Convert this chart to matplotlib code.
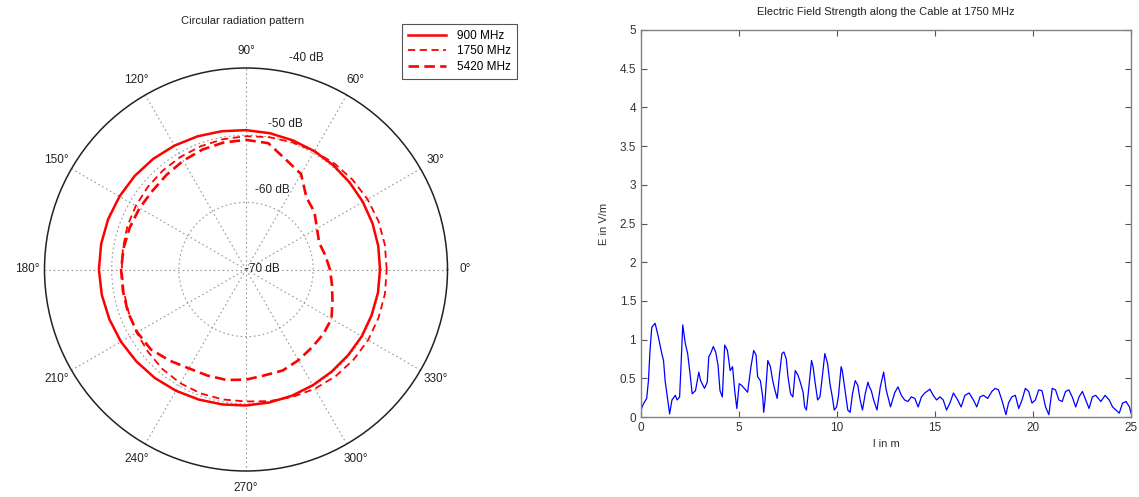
import numpy as np
import matplotlib
matplotlib.use("Agg")
import matplotlib.pyplot as plt

plt.rcParams['font.family'] = ['Liberation Sans', 'DejaVu Sans']
plt.rcParams['font.size'] = 8

# polar pattern data (angle in degrees, level in dB)
angles_deg = list(range(0, 370, 10))
level_900 = [-50.05, -50.0, -49.95, -49.9, -49.85, -49.75, -49.65, -49.55, -49.4, -49.25,
             -49.1, -48.9, -48.7, -48.5, -48.35, -48.25, -48.15, -48.1, -48.1, -48.2,
             -48.35, -48.5, -48.7, -48.9, -49.15, -49.4, -49.6, -49.75, -49.9, -50.0,
             -50.1, -50.15, -50.15, -50.1, -50.1, -50.05, -50.05]
level_1750 = [-49.05, -49.0, -49.0, -49.1, -49.25, -49.45, -49.65, -49.85, -50.0, -50.15,
              -50.3, -50.45, -50.6, -50.75, -50.9, -51.05, -51.2, -51.4, -51.5, -51.5,
              -51.4, -51.2, -50.95, -50.65, -50.45, -50.35, -50.35, -50.35, -50.1, -49.8,
              -49.5, -49.25, -49.1, -49.0, -49.0, -49.0, -49.05]
level_5420 = [-57.5, -58.0, -58.4, -57.8, -56.7, -56.0, -53.6, -52.6, -50.9, -50.7,
              -50.8, -51.0, -51.3, -51.6, -51.8, -51.7, -51.6, -51.5, -51.4, -51.4,
              -51.3, -51.3, -51.5, -52.3, -53.0, -53.2, -53.3, -53.6, -54.0, -54.0,
              -54.4, -54.8, -55.0, -55.3, -56.3, -57.0, -57.5]
db_rings = [-60, -50]
db_labels = ['-70 dB', '-60 dB', '-50 dB', '-40 dB']

# field strength along the cable
pos_m = [0.0, 0.12, 0.29, 0.38, 0.46, 0.55, 0.72, 0.89, 1.06, 1.15, 1.23, 1.32, 1.46, 1.58,
         1.75, 1.84, 1.97, 2.04, 2.13, 2.26, 2.38, 2.52, 2.61, 2.78, 2.95, 3.04, 3.12, 3.24,
         3.38, 3.46, 3.55, 3.69, 3.81, 3.93, 4.03, 4.15, 4.27, 4.41, 4.55, 4.67, 4.79, 4.89,
         5.01, 5.13, 5.27, 5.44, 5.61, 5.75, 5.87, 5.95, 6.09, 6.21, 6.26, 6.33, 6.47, 6.60,
         6.72, 6.84, 6.95, 7.07, 7.19, 7.29, 7.41, 7.50, 7.63, 7.75, 7.87, 8.01, 8.15, 8.27,
         8.35, 8.44, 8.53, 8.70, 8.78, 8.87, 9.01, 9.13, 9.25, 9.38, 9.52, 9.64, 9.76, 9.86,
         9.98, 10.07, 10.21, 10.27, 10.41, 10.55, 10.67, 10.79, 10.93, 11.06, 11.18, 11.30,
         11.44, 11.58, 11.65, 11.75, 11.87, 12.04, 12.21, 12.38, 12.51, 12.73, 12.94, 13.11,
         13.28, 13.45, 13.62, 13.79, 13.97, 14.14, 14.31, 14.48, 14.74, 14.91, 15.08, 15.25,
         15.42, 15.59, 15.76, 15.94, 16.16, 16.33, 16.53, 16.74, 16.96, 17.13, 17.30, 17.47,
         17.69, 17.90, 18.07, 18.24, 18.41, 18.62, 18.75, 18.92, 19.10, 19.27, 19.44, 19.61,
         19.78, 19.95, 20.12, 20.29, 20.46, 20.64, 20.81, 20.98, 21.15, 21.32, 21.49, 21.66,
         21.83, 22.00, 22.18, 22.35, 22.52, 22.69, 22.86, 23.03, 23.20, 23.46, 23.68, 23.89,
         24.06, 24.23, 24.40, 24.57, 24.75, 24.92, 25.0]
field_vm = [0.09, 0.17, 0.24, 0.47, 0.86, 1.16, 1.21, 1.03, 0.82, 0.73, 0.47, 0.30, 0.04, 0.22,
            0.28, 0.22, 0.26, 0.65, 1.19, 0.95, 0.82, 0.52, 0.30, 0.34, 0.58, 0.47, 0.43, 0.37,
            0.45, 0.78, 0.82, 0.91, 0.84, 0.67, 0.34, 0.26, 0.93, 0.86, 0.60, 0.65, 0.32, 0.11,
            0.43, 0.41, 0.37, 0.32, 0.65, 0.86, 0.80, 0.52, 0.47, 0.26, 0.06, 0.22, 0.73, 0.65,
            0.47, 0.34, 0.24, 0.56, 0.82, 0.84, 0.75, 0.52, 0.30, 0.26, 0.60, 0.54, 0.43, 0.32,
            0.13, 0.09, 0.30, 0.73, 0.65, 0.47, 0.22, 0.26, 0.52, 0.82, 0.69, 0.43, 0.26, 0.09,
            0.13, 0.26, 0.65, 0.60, 0.34, 0.09, 0.06, 0.30, 0.47, 0.41, 0.22, 0.09,
            0.30, 0.45, 0.39, 0.34, 0.22, 0.09, 0.39, 0.58, 0.35, 0.13, 0.31, 0.39,
            0.28, 0.22, 0.20, 0.26, 0.24, 0.13, 0.26, 0.31, 0.36, 0.28, 0.22, 0.26,
            0.22, 0.09, 0.18, 0.31, 0.22, 0.13, 0.28, 0.31, 0.22, 0.13, 0.26, 0.28,
            0.24, 0.33, 0.37, 0.35, 0.22, 0.03, 0.18, 0.26, 0.28, 0.11, 0.22, 0.37,
            0.33, 0.18, 0.22, 0.35, 0.34, 0.13, 0.03, 0.37, 0.35, 0.22, 0.20, 0.33,
            0.35, 0.26, 0.13, 0.26, 0.33, 0.22, 0.11, 0.26, 0.28, 0.20, 0.28, 0.22,
            0.13, 0.09, 0.05, 0.18, 0.20, 0.13, 0.05]

W, H = 1139, 497
fig = plt.figure(figsize=(W / 100, H / 100), dpi=100)

# ---- polar plot ----
cx, cy, R = 246, 269.5, 201.5
axp = fig.add_axes([(cx - R) / W, (H - cy - R) / H, 2 * R / W, 2 * R / H], projection='polar')
th = np.deg2rad(angles_deg)
axp.plot(th, level_900, color='red', lw=1.8, ls='-', label='900 MHz')
axp.plot(th, level_1750, color='red', lw=1.3, ls=(0, (4, 2.5)), label='1750 MHz')
axp.plot(th, level_5420, color='red', lw=1.9, ls=(0, (4, 2)), label='5420 MHz')
axp.set_rlim(-70, -40)
axp.set_rticks(db_rings)
axp.set_yticklabels([])
axp.set_thetagrids(range(0, 360, 30), [f'{a}°' for a in range(0, 360, 30)],
                   color='#222222', fontsize=8.5)
axp.tick_params(axis='x', pad=2)
axp.grid(True, color='#9a9a9a', ls=(0, (1.5, 2.5)), lw=0.8)
axp.spines['polar'].set_color('#222222')
axp.spines['polar'].set_linewidth(1.1)

# dB labels along the rings
label_pos = [(0.0, -67.5), (71.9, -57.55), (75.0, -47.6), (74.0, -37.3)]
for txt, (a, r) in zip(db_labels, label_pos):
    axp.text(np.deg2rad(a), r, txt, ha='center', va='center', fontsize=8.5,
             color='#222222', clip_on=False)

fig.text(243 / W, 1 - 21 / H, 'Circular radiation pattern', ha='center', va='center',
         fontsize=8, color='#222222')
leg = axp.legend(loc='upper left', bbox_to_anchor=(402 / W, 1 - 24 / H),
                 bbox_transform=fig.transFigure, borderaxespad=0, fancybox=False,
                 fontsize=8.5, handlelength=3.2, borderpad=0.5, labelspacing=0.3,
                 handletextpad=1.0, framealpha=1)
leg.get_frame().set_edgecolor('#555555')
leg.get_frame().set_linewidth(0.8)

# ---- field strength plot ----
x0, x1, y0, y1 = 641, 1131, 30, 417
axr = fig.add_axes([x0 / W, (H - y1) / H, (x1 - x0) / W, (y1 - y0) / H])
axr.plot(pos_m, field_vm, color='blue', lw=0.9)
axr.set_xlim(0, 25)
axr.set_ylim(0, 5)
axr.set_xticks(range(0, 30, 5))
axr.set_yticks(np.arange(0, 5.01, 0.5))
axr.set_yticklabels(['0', '0.5', '1', '1.5', '2', '2.5', '3', '3.5', '4', '4.5', '5'])
axr.tick_params(direction='in', top=True, right=True, length=4, colors='#555555',
                labelcolor='#333333', labelsize=8.5)
for s in axr.spines.values():
    s.set_color('#808080')
    s.set_linewidth(1.0)
axr.set_title('Electric Field Strength along the Cable at 1750 MHz', fontsize=8,
              color='#222222', pad=11)
axr.set_xlabel('l in m', fontsize=8, color='#333333', labelpad=4)
axr.set_ylabel('E in V/m', fontsize=8, color='#333333', labelpad=8)

fig.savefig('out.png', dpi=100)
